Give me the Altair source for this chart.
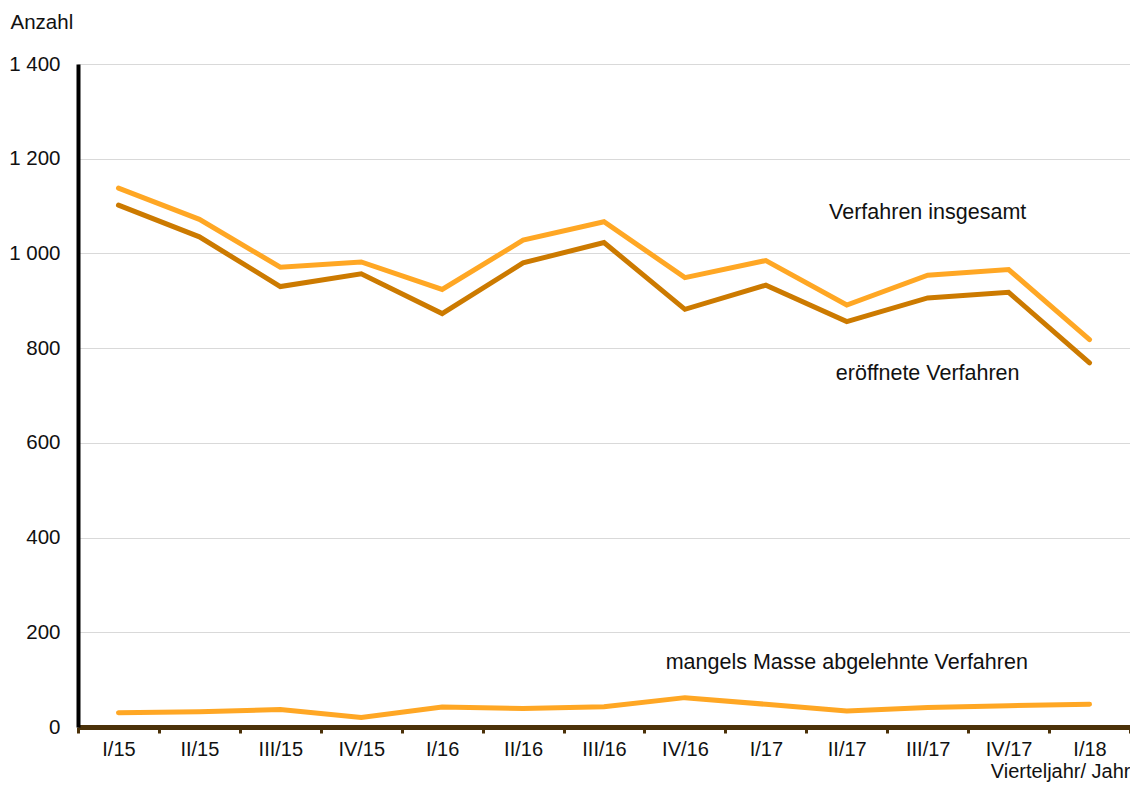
import altair as alt
import pandas as pd

quarters = ["I/15", "II/15", "III/15", "IV/15", "I/16", "II/16", "III/16",
            "IV/16", "I/17", "II/17", "III/17", "IV/17", "I/18"]
insgesamt = [1138, 1072, 971, 982, 924, 1028, 1067, 949, 985, 891, 954, 966, 818]
eroeffnet = [1102, 1035, 930, 957, 873, 980, 1023, 882, 933, 856, 906, 918, 769]
mangels = [30, 32, 37, 20, 42, 39, 43, 62, 48, 34, 41, 45, 48]

series_names = ["Verfahren insgesamt", "eröffnete Verfahren",
                "mangels Masse abgelehnte Verfahren"]
series_colors = ["#FFA724", "#CC7A00", "#FFA724"]

label_quarters = ["III/17", "III/17", "II/17"]
label_values = [1085, 745, 135]

FONT = "Liberation Sans"

rows = []
for name, vals in zip(series_names, [insgesamt, eroeffnet, mangels]):
    for q, v in zip(quarters, vals):
        rows.append({"Quartal": q, "Anzahl": v, "Serie": name})
df = pd.DataFrame(rows)

labels_df = pd.DataFrame({"Quartal": label_quarters, "Anzahl": label_values,
                          "Text": series_names})

x_enc = alt.X(
    "Quartal:O",
    sort=quarters,
    scale=alt.Scale(type="band", paddingInner=0, paddingOuter=0),
    bandPosition=0.5,
    axis=alt.Axis(
        title="Vierteljahr/ Jahr",
        titleAnchor="end",
        titleAlign="right",
        titleFont=FONT,
        titleFontSize=20,
        titleFontWeight="normal",
        titleColor="#111111",
        titlePadding=2,
        labelFont=FONT,
        labelFontSize=20,
        labelColor="#111111",
        labelAngle=0,
        labelPadding=6,
        tickBand="extent",
        tickSize=6,
        tickWidth=3,
        tickColor="#4B3109",
        domainColor="#4B3109",
        domainWidth=5,
        grid=False,
    ),
)

y_enc = alt.Y(
    "Anzahl:Q",
    scale=alt.Scale(domain=[0, 1400], nice=False),
    axis=alt.Axis(
        values=[0, 200, 400, 600, 800, 1000, 1200, 1400],
        labelExpr="replace(format(datum.value, ','), ',', ' ')",
        title="Anzahl",
        titleAngle=0,
        titleAlign="left",
        titleBaseline="alphabetic",
        titleX=-68,
        titleY=-36,
        titleFont=FONT,
        titleFontSize=20.5,
        titleFontWeight="normal",
        titleColor="#111111",
        labelFont=FONT,
        labelFontSize=20.5,
        labelColor="#111111",
        labelPadding=18,
        ticks=False,
        domainColor="#000000",
        domainWidth=4,
        grid=True,
        gridColor="#D9D9D9",
        gridWidth=1,
    ),
)

lines = alt.Chart(df).mark_line(strokeWidth=5, strokeCap="round", strokeJoin="miter").encode(
    x=x_enc,
    y=y_enc,
    color=alt.Color("Serie:N", scale=alt.Scale(domain=series_names, range=series_colors),
                    legend=None),
    detail="Serie:N",
)

texts = alt.Chart(labels_df).mark_text(
    font=FONT, fontSize=21.5, color="#111111", align="center", baseline="middle"
).encode(
    x=alt.X("Quartal:O", sort=quarters, bandPosition=0.5),
    y=alt.Y("Anzahl:Q"),
    text="Text:N",
)

chart = alt.layer(lines, texts).properties(
    width=1052,
    height=663,
    autosize=alt.AutoSizeParams(type="none"),
    padding={"left": 70, "top": 56, "right": 0, "bottom": 60},
).configure_view(stroke=None).configure(background="white")

chart.save("out.html", embed_options={"renderer": "svg", "actions": False})
